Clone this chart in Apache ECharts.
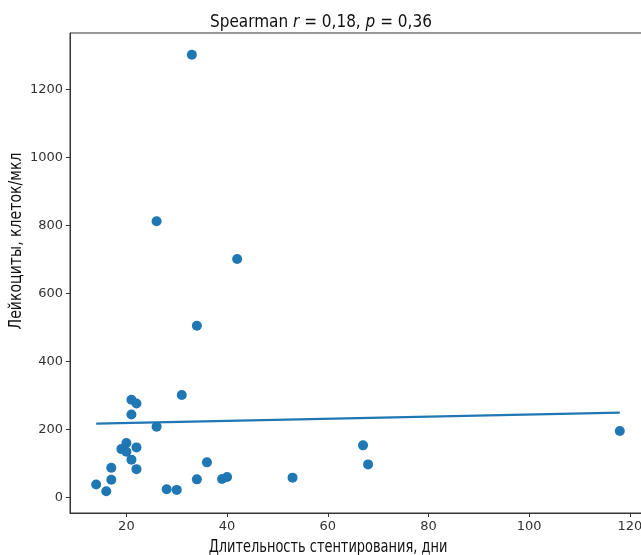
<!DOCTYPE html>
<html>
<head>
<meta charset="utf-8">
<script src="https://cdn.jsdelivr.net/npm/echarts@6/dist/echarts.min.js"></script>
<style>
  html, body { margin: 0; padding: 0; background: #fff; }
  #chart { width: 641px; height: 555px; }
</style>
</head>
<body>
<div id="chart"></div>
<script>
  // стентирование (дни) / лейкоциты (клеток/мкл)
  const days = [33, 26, 42, 34, 31, 21, 22, 21, 26, 14, 16, 17, 17, 19, 20, 20, 21, 22, 22,
    28, 30, 34, 36, 39, 40, 53, 67, 68, 118];
  const leuko = [1302, 812, 701, 505, 301, 287, 276, 244, 208, 38, 18, 52, 87, 142, 160, 134, 111, 147, 83,
    24, 22, 53, 103, 54, 60, 58, 153, 97, 195];
  // линия тренда, значения
  const fitDays = [14, 118];
  const fitLeuko = [217, 249];
  const xTicks = [20, 40, 60, 80, 100, 120];
  const yTicks = [0, 200, 400, 600, 800, 1000, 1200];

  const narrow = 'Liberation Sans Narrow, DejaVu Sans Condensed, sans-serif';
  const blue = '#1f77b4';

  const chart = echarts.init(document.getElementById('chart'));
  const option = {
    animation: false,
    backgroundColor: '#fff',
    title: {
      text: 'Spearman {i|r} = 0,18, {i|p} = 0,36',
      left: 205,
      top: 9,
      textStyle: {
        fontFamily: narrow,
        fontSize: 17,
        fontWeight: 'normal',
        color: '#111',
        rich: {
          i: { fontFamily: narrow, fontSize: 17, fontStyle: 'italic', color: '#111' },
        },
      },
    },
    // подписи осей сдвинуты влево/вверх, как в оригинале
    graphic: [
      {
        type: 'text',
        x: 328,
        y: 547,
        scaleX: 0.8,
        style: {
          text: 'Длительность стентирования, дни',
          font: '18px ' + narrow,
          fill: '#111',
          align: 'center',
          verticalAlign: 'middle',
        },
      },
      {
        type: 'text',
        x: 17,
        y: 241,
        rotation: Math.PI / 2,
        scaleX: 0.92,
        style: {
          text: 'Лейкоциты, клеток/мкл',
          font: '17px ' + narrow,
          fill: '#111',
          align: 'center',
          verticalAlign: 'middle',
        },
      },
    ],
    grid: {
      left: 70,
      top: 33,
      right: -5,
      bottom: 42,
      outerBoundsMode: 'none',
      containLabel: false,
      show: true,
      borderColor: '#333',
      borderWidth: 1,
    },
    xAxis: {
      type: 'value',
      min: 8.8,
      max: 123.2,
      splitLine: { show: false },
      axisLine: { show: true, onZero: false, lineStyle: { color: '#333' } },
      axisTick: { show: true, customValues: xTicks, length: 4, lineStyle: { color: '#333' } },
      axisLabel: {
        customValues: xTicks,
        formatter: (v) => String(v),
        fontFamily: 'DejaVu Sans',
        fontSize: 13,
        color: '#333',
        margin: 7,
      },
    },
    yAxis: {
      type: 'value',
      min: -46,
      max: 1366,
      splitLine: { show: false },
      axisLine: { show: true, onZero: false, lineStyle: { color: '#333' } },
      axisTick: { show: true, customValues: yTicks, length: 4, lineStyle: { color: '#333' } },
      axisLabel: {
        customValues: yTicks,
        formatter: (v) => String(v),
        fontFamily: 'DejaVu Sans',
        fontSize: 13,
        color: '#333',
        margin: 7,
      },
    },
    series: [
      {
        type: 'scatter',
        symbolSize: 10,
        itemStyle: { color: blue, opacity: 1 },
        data: days.map((d, i) => [d, leuko[i]]),
        z: 2,
      },
      {
        type: 'line',
        showSymbol: false,
        lineStyle: { color: blue, width: 2.2 },
        data: fitDays.map((d, i) => [d, fitLeuko[i]]),
        z: 3,
      },
    ],
  };
  chart.setOption(option);
</script>
</body>
</html>
